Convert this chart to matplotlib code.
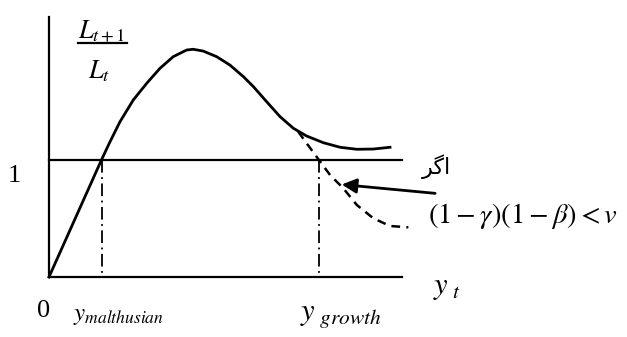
import numpy as np
import matplotlib.pyplot as plt

plt.rcParams['font.family'] = ['Liberation Serif', 'DejaVu Sans']
plt.rcParams['mathtext.fontset'] = 'stix'

# main curve L(t+1)/L(t) against y_t
curve_x = [0, 0.195, 0.226, 0.263, 0.312, 0.362, 0.411, 0.460, 0.510, 0.534,
           0.571, 0.621, 0.670, 0.720, 0.757, 0.806, 0.856, 0.905, 0.954,
           1.016, 1.078, 1.140, 1.201, 1.263]
curve_y = [0, 1.0, 1.151, 1.322, 1.506, 1.649, 1.776, 1.875, 1.932, 1.938,
           1.923, 1.875, 1.804, 1.705, 1.620, 1.492, 1.364, 1.266, 1.200,
           1.143, 1.104, 1.087, 1.089, 1.104]

# dashed branch when (1-gamma)(1-beta) < v
dash_x = [0.923, 0.960, 0.997, 1.041, 1.090, 1.140, 1.201, 1.263, 1.331]
dash_y = [1.237, 1.120, 1.005, 0.868, 0.755, 0.613, 0.500, 0.434, 0.423]

y_malthus = 0.195
y_growth = 1.0
x_end = 1.307
y_top = 2.213

fig = plt.figure(figsize=(6.27, 3.37), dpi=100)
ax = fig.add_axes([0, 0, 1, 1])
ax.set_xlim(-49 / 270, 578 / 270)
ax.set_ylim(-60 / 117.5, 277 / 117.5)
ax.axis('off')

lw = 1.6
# axes and the level 1 line
ax.plot([0, 0], [0, y_top], color='black', lw=lw)
ax.plot([0, x_end], [0, 0], color='black', lw=lw)
ax.plot([0, x_end], [1, 1], color='black', lw=lw)

# curves
ax.plot(curve_x, curve_y, color='black', lw=2.0, solid_joinstyle='round')
ax.plot(dash_x, dash_y, color='black', lw=1.8, dashes=(3.5, 2.5))

# steady states
for xv in [y_malthus, y_growth]:
    ax.plot([xv, xv], [1, 0.02], color='black', lw=1.3, dashes=(7, 2.5, 1, 2.5))

# arrow to the dashed branch
ax.annotate('', xy=(1.084, 0.787), xytext=(1.430, 0.712),
            arrowprops=dict(arrowstyle='-|>', lw=2.0, color='black',
                            mutation_scale=22, shrinkA=0, shrinkB=0))

# labels
ax.text(0.107, 2.09, r'$L_{t+1}$', fontsize=19, va='center', ha='left')
ax.plot([0.107, 0.289], [1.99, 1.99], color='black', lw=1.6)
ax.text(0.144, 1.75, r'$L_t$', fontsize=19, va='center', ha='left')

ax.text(-0.130, 0.86, '1', fontsize=19, ha='center', va='center')
ax.text(-0.019, -0.289, '0', fontsize=19, ha='center', va='center')
ax.text(0.089, -0.33, r'$y_{malthusian}$', fontsize=18, ha='left', va='center')
ax.text(0.93, -0.33, r'$y_{\ growth}$', fontsize=22, ha='left', va='center')
ax.text(1.422, -0.09, r'$y_{\ t}$', fontsize=22, ha='left', va='center')

ax.text(1.404, 0.519, r'$(1-\gamma)(1-\beta) < v$', fontsize=20.5, ha='left', va='center')
ax.text(1.437, 0.94, '\ufeae\ufb94\ufe8d', fontsize=16, ha='center', va='center',
        family=['DejaVu Sans'])

fig.savefig('out.png', dpi=100)
